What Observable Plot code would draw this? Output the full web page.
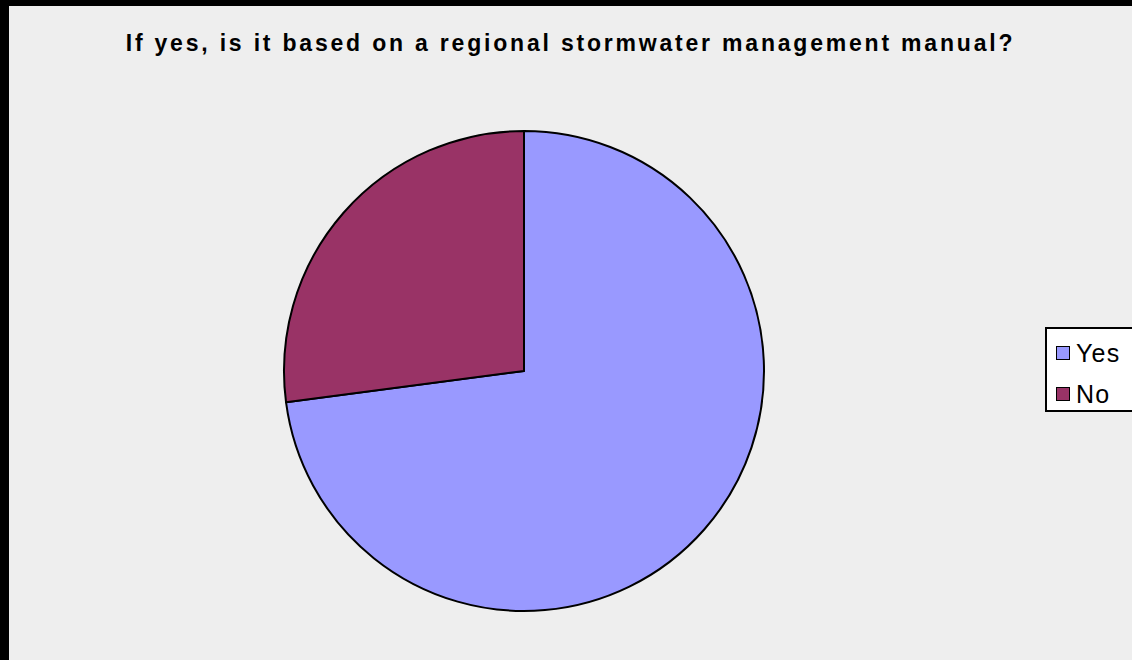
<!DOCTYPE html>
<html>
<head>
<meta charset="utf-8">
<script src="https://cdn.jsdelivr.net/npm/d3@7"></script>
<script src="https://cdn.jsdelivr.net/npm/@observablehq/plot@0.6"></script>
<style>
  html, body { margin: 0; padding: 0; background: #000; }
  #frame { position: relative; width: 1132px; height: 660px; background: #000; overflow: hidden; }
  #inner { position: absolute; left: 9px; top: 6px; width: 1123px; height: 654px; background: #eeeeee; }
  #title { position: absolute; left: 0; top: 24px; width: 1123px; text-align: center; line-height: 26px;
           font-family: "Liberation Sans", Arial, sans-serif; font-weight: bold; font-size: 23px;
           letter-spacing: 2.8px; color: #000; }
  #chart { position: absolute; left: 0; top: 0; }
  #legend { position: absolute; left: 1036px; top: 321px; width: 100px; height: 85px;
            border: 2px solid #000; background: #fff; box-sizing: border-box;
            font-family: "Liberation Sans", Arial, sans-serif; font-size: 25px; letter-spacing: 1.2px; line-height: 28px; }
  .item { position: absolute; left: 9px; display: flex; align-items: center; }
  .sw { width: 12px; height: 12px; border: 1.5px solid #000; margin-right: 6px; }
</style>
</head>
<body>
<div id="frame">
  <div id="inner">
    <div id="chart"></div>
    <div id="title"></div>
    <div id="legend"></div>
  </div>
</div>
<script>
const titleText = "If yes, is it based on a regional stormwater management manual?";
const categories = ["Yes", "No"];
const values = [35, 13];
const colors = ["#9999ff", "#993366"];

const data = categories.map((c, i) => ({category: c, value: values[i]}));

document.getElementById("title").textContent = titleText;

function pieMark(index, scales, channels, dimensions) {
  const {width, height, marginLeft, marginRight, marginTop, marginBottom} = dimensions;
  const cx = marginLeft + (width - marginLeft - marginRight) / 2;
  const cy = marginTop + (height - marginTop - marginBottom) / 2;
  const r = Math.min(width - marginLeft - marginRight, height - marginTop - marginBottom) / 2;
  const arcs = d3.pie().sort(null).value(d => d.value)(data);
  const arc = d3.arc().innerRadius(0).outerRadius(r);
  const g = d3.create("svg:g").attr("transform", `translate(${cx},${cy})`);
  g.selectAll("path").data(arcs).join("path")
    .attr("d", arc)
    .attr("fill", d => scales.color(d.data.category))
    .attr("stroke", "#000")
    .attr("stroke-width", 2)
    .attr("stroke-linejoin", "round");
  return g.node();
}

const plot = Plot.plot({
  width: 1123,
  height: 654,
  marginLeft: 275,
  marginRight: 368,
  marginTop: 125,
  marginBottom: 49,
  style: {background: "transparent"},
  color: {type: "ordinal", domain: categories, range: colors},
  marks: [pieMark]
});
document.getElementById("chart").appendChild(plot);

const legend = document.getElementById("legend");
categories.forEach((c, i) => {
  const it = document.createElement("div");
  it.className = "item";
  it.style.top = (10 + i * 41) + "px";
  const sw = document.createElement("div");
  sw.className = "sw";
  sw.style.background = colors[i];
  const t = document.createElement("span");
  t.textContent = c;
  it.appendChild(sw);
  it.appendChild(t);
  legend.appendChild(it);
});
</script>
</body>
</html>
